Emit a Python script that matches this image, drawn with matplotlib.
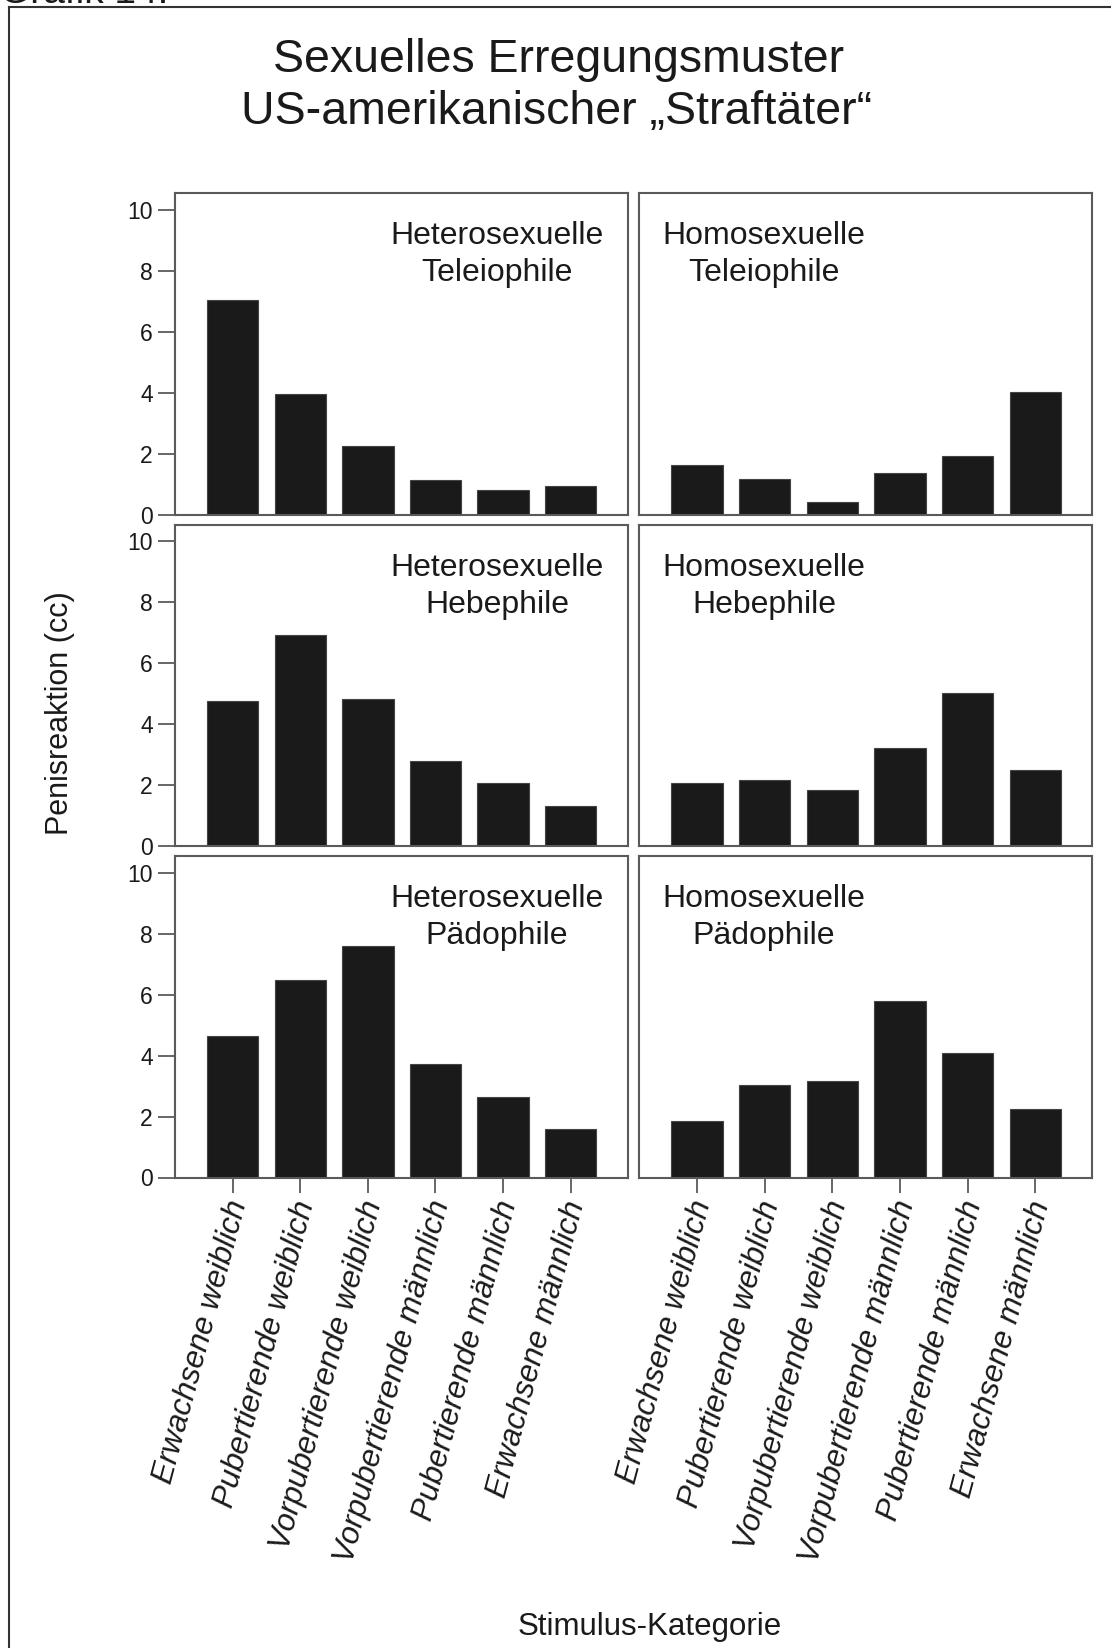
import matplotlib
matplotlib.use("Agg")
import matplotlib.pyplot as plt
from matplotlib.lines import Line2D
import matplotlib.transforms as mtransforms

plt.rcParams['font.family'] = ['Liberation Sans', 'DejaVu Sans']

categories = ["Erwachsene weiblich", "Pubertierende weiblich", "Vorpubertierende weiblich",
              "Vorpubertierende männlich", "Pubertierende männlich", "Erwachsene männlich"]

hetero_teleio = [7.03, 3.97, 2.25, 1.14, 0.79, 0.93]
homo_teleio = [1.64, 1.17, 0.42, 1.36, 1.92, 4.03]
hetero_hebe = [4.77, 6.92, 4.83, 2.78, 2.08, 1.30]
homo_hebe = [2.07, 2.17, 1.83, 3.21, 5.03, 2.48]
hetero_paedo = [4.64, 6.47, 7.61, 3.74, 2.63, 1.59]
homo_paedo = [1.87, 3.04, 3.17, 5.79, 4.07, 2.24]

panels = [
    [("Heterosexuelle", "Teleiophile", hetero_teleio), ("Homosexuelle", "Teleiophile", homo_teleio)],
    [("Heterosexuelle", "Hebephile", hetero_hebe), ("Homosexuelle", "Hebephile", homo_hebe)],
    [("Heterosexuelle", "Pädophile", hetero_paedo), ("Homosexuelle", "Pädophile", homo_paedo)],
]
yticks = [0, 2, 4, 6, 8, 10]

W, H = 1111, 1648
fig = plt.figure(figsize=(W / 100, H / 100), dpi=100)
fig.patch.set_facecolor('white')

def fx(px):
    return px / W

def fy(py):
    return 1 - py / H

col_x = [174.5, 639]
row_top = [193, 524.5, 856]
aw, ah = 453, 321.5

spine_col = '#5a5a5a'
text_col = '#1a1a1a'

x = list(range(len(categories)))
for r in range(3):
    for c in range(2):
        l1, l2, vals = panels[r][c]
        ax = fig.add_axes([fx(col_x[c]), fy(row_top[r] + ah), aw / W, ah / H])
        ax.bar(x, vals, width=0.76, color='#1a1a1a', edgecolor='#444444', linewidth=0.8)
        ax.set_xlim(-0.86, 5.84)
        ax.set_ylim(0, 10.55)
        for s in ax.spines.values():
            s.set_color(spine_col)
            s.set_linewidth(1.5)
        ax.tick_params(axis='both', colors=spine_col, width=1.3, labelcolor=text_col)
        if c == 0:
            ax.set_yticks(yticks)
            ax.set_yticklabels([str(t) for t in yticks], fontsize=16.5)
            ax.tick_params(axis='y', length=12, pad=3.5)
        else:
            ax.set_yticks([])
        if r == 2:
            ax.set_xticks(x)
            labs = ax.set_xticklabels(categories, rotation=75, ha='right', va='center',
                                      rotation_mode='anchor', fontsize=22.5, style='italic')
            ax.tick_params(axis='x', length=11, pad=6)
            shift = mtransforms.ScaledTranslation(6 / 100, 0, fig.dpi_scale_trans)
            for t in labs:
                t.set_transform(t.get_transform() + shift)
        else:
            ax.set_xticks([])
        cx = 0.712 if c == 0 else 0.276
        ax.text(cx, 1 - 51 / ah, l1, transform=ax.transAxes, ha='center', va='baseline',
                fontsize=23, color=text_col)
        ax.text(cx, 1 - 88 / ah, l2, transform=ax.transAxes, ha='center', va='baseline',
                fontsize=23, color=text_col)

# Title
fig.text(fx(559), fy(72), "Sexuelles Erregungsmuster", ha='center', va='baseline',
         fontsize=33.5, color=text_col)
fig.text(fx(557), fy(124), "US-amerikanischer „Straftäter“", ha='center', va='baseline',
         fontsize=33.5, color=text_col)

# Axis labels
fig.text(fx(60), fy(713), "Penisreaktion (cc)", rotation=90, ha='center', va='center',
         fontsize=22, color=text_col)
fig.text(fx(650), fy(1635), "Stimulus-Kategorie", ha='center', va='baseline',
         fontsize=22.5, color=text_col)

# Caption at the very top, cut off by the page edge as in the source
fig.text(fx(0), fy(3), "Grafik 14:", ha='left', va='baseline', fontsize=28, color=text_col)

# Outer frame (left and top edges visible)
fig.add_artist(Line2D([fx(9), fx(9)], [fy(7), 0], color='#333333', linewidth=1.5))
fig.add_artist(Line2D([fx(9), 1], [fy(7), fy(7)], color='#333333', linewidth=1.5))

fig.savefig("out.png", dpi=100, facecolor='white')
